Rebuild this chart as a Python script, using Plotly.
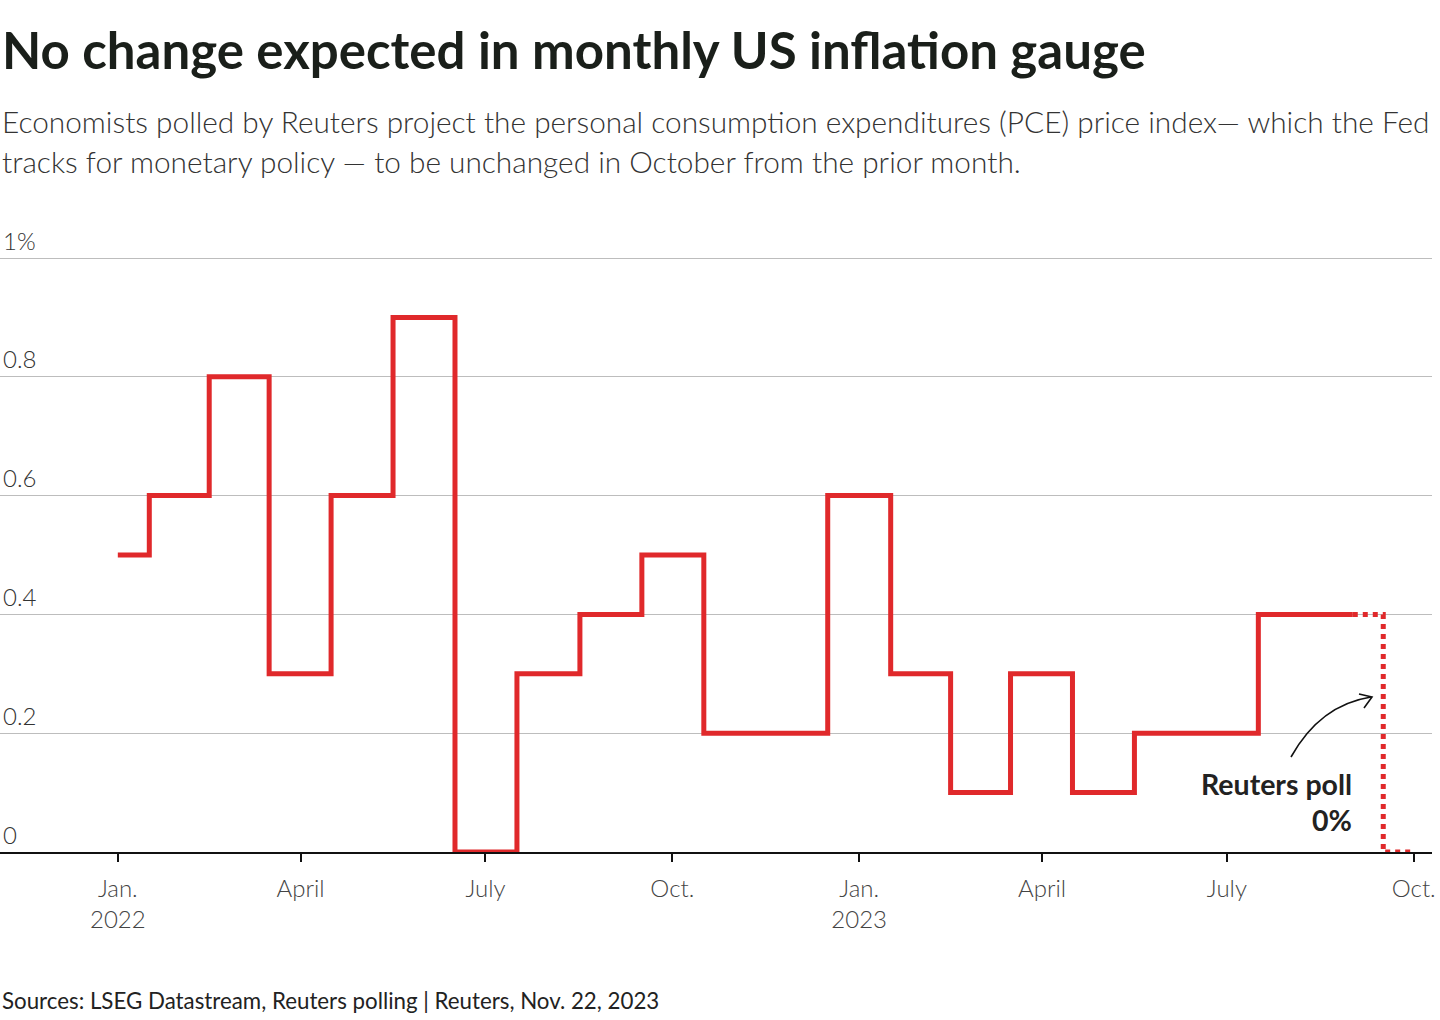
import plotly.graph_objects as go

# ---- data ----
months = ["2022-01-01", "2022-02-01", "2022-03-01", "2022-04-01", "2022-05-01", "2022-06-01",
          "2022-07-01", "2022-08-01", "2022-09-01", "2022-10-01", "2022-11-01", "2022-12-01",
          "2023-01-01", "2023-02-01", "2023-03-01", "2023-04-01", "2023-05-01", "2023-06-01",
          "2023-07-01", "2023-08-01", "2023-09-01"]
pce_mom = [0.5, 0.6, 0.8, 0.3, 0.6, 0.9, 0.0, 0.3, 0.4, 0.5, 0.2, 0.2,
           0.6, 0.3, 0.1, 0.3, 0.1, 0.2, 0.2, 0.4, 0.4]
poll_months = ["2023-09-01", "2023-10-01"]
poll_values = [0.4, 0.0]

xtick_vals = ["2022-01-01", "2022-04-01", "2022-07-01", "2022-10-01",
              "2023-01-01", "2023-04-01", "2023-07-01", "2023-10-01"]
xtick_text = ["Jan.<br>2022", "April", "July", "Oct.", "Jan.<br>2023", "April", "July", "Oct."]
ytick_vals = [0, 0.2, 0.4, 0.6, 0.8, 1.0]
ytick_text = ["0", "0.2", "0.4", "0.6", "0.8", "1%"]

RED = "#e0292b"
FONT = "Lato"

fig = go.Figure()
fig.add_trace(go.Scatter(x=months, y=pce_mom, mode="lines", line_shape="hvh",
                         line=dict(color=RED, width=5), hoverinfo="x+y", showlegend=False))
fig.add_trace(go.Scatter(x=poll_months, y=poll_values, mode="lines", line_shape="hvh",
                         line=dict(color=RED, width=5, dash="dot"), showlegend=False))

W, H = 1440, 1020
L, R, T, B = 0, 8, 222, 168
pw, ph = W - L - R, H - T - B
y_top = ph / 594.0  # 1 unit = 594 px, so 1% gridline sits at y=258


def px(x):
    return (x - L) / pw


def py(y):
    return (H - B - y) / ph


# curved arrow for poll annotation (paper coords)
fig.add_shape(type="path", xref="paper", yref="paper",
              path=f"M {px(1291)} {py(757)} Q {px(1320)} {py(705)} {px(1371)} {py(697)}",
              line=dict(color="#111", width=1.6))
fig.add_shape(type="path", xref="paper", yref="paper",
              path=f"M {px(1359)} {py(694)} L {px(1372)} {py(697)} L {px(1364)} {py(708)}",
              line=dict(color="#111", width=1.6))

annotations = [
    dict(text="<b>No change expected in monthly US inflation gauge</b>", x=px(0), y=py(49),
         font=dict(size=51, color="#1a1f1a", family=FONT)),
    dict(text="Economists polled by Reuters project the personal consumption expenditures (PCE) price index\u2014 which the Fed",
         x=px(0), y=py(122), font=dict(size=29.8, color="#333", family=FONT, weight=300)),
    dict(text="tracks for monetary policy \u2014 to be unchanged in October from the prior month.",
         x=px(0), y=py(162), font=dict(size=29.8, color="#333", family=FONT, weight=300)),
    dict(text="Sources: LSEG Datastream, Reuters polling | Reuters, Nov. 22, 2023",
         x=px(0), y=py(1000), font=dict(size=22.3, color="#222", family=FONT)),
]
for a in annotations:
    a.update(xref="paper", yref="paper", xanchor="left", yanchor="middle", showarrow=False)
    fig.add_annotation(**a)

fig.add_annotation(text="<b>Reuters poll</b>", xref="paper", yref="paper", x=px(1354), y=py(784),
                   xanchor="right", yanchor="middle", showarrow=False,
                   font=dict(size=28.5, color="#222", family=FONT))
fig.add_annotation(text="<b>0%</b>", xref="paper", yref="paper", x=px(1354), y=py(820),
                   xanchor="right", yanchor="middle", showarrow=False,
                   font=dict(size=28.5, color="#222", family=FONT))

fig.update_layout(
    width=W, height=H, margin=dict(l=L, r=R, t=T, b=B),
    paper_bgcolor="white", plot_bgcolor="white",
    font=dict(family=FONT, color="#333"),
    xaxis=dict(type="date", range=["2021-11-04", "2023-10-10"],
               tickvals=xtick_vals, ticktext=xtick_text,
               showgrid=False, showline=True, linecolor="#111", linewidth=1.6,
               ticks="outside", ticklen=8, tickwidth=1.6, tickcolor="#111",
               ticklabelstandoff=6,
               tickfont=dict(size=24, color="#444", family=FONT, weight=300), zeroline=False),
    yaxis=dict(range=[0, y_top], tickvals=ytick_vals, ticktext=ytick_text,
               showgrid=True, gridcolor="#bdbdbd", gridwidth=1, zeroline=False,
               ticklabelposition="inside top", ticks="",
               tickfont=dict(size=24, color="#333", family=FONT, weight=300)),
)

fig.write_html("out.html", config={"displayModeBar": False},
               post_script="document.body.style.margin='0';document.body.style.padding='0';")
